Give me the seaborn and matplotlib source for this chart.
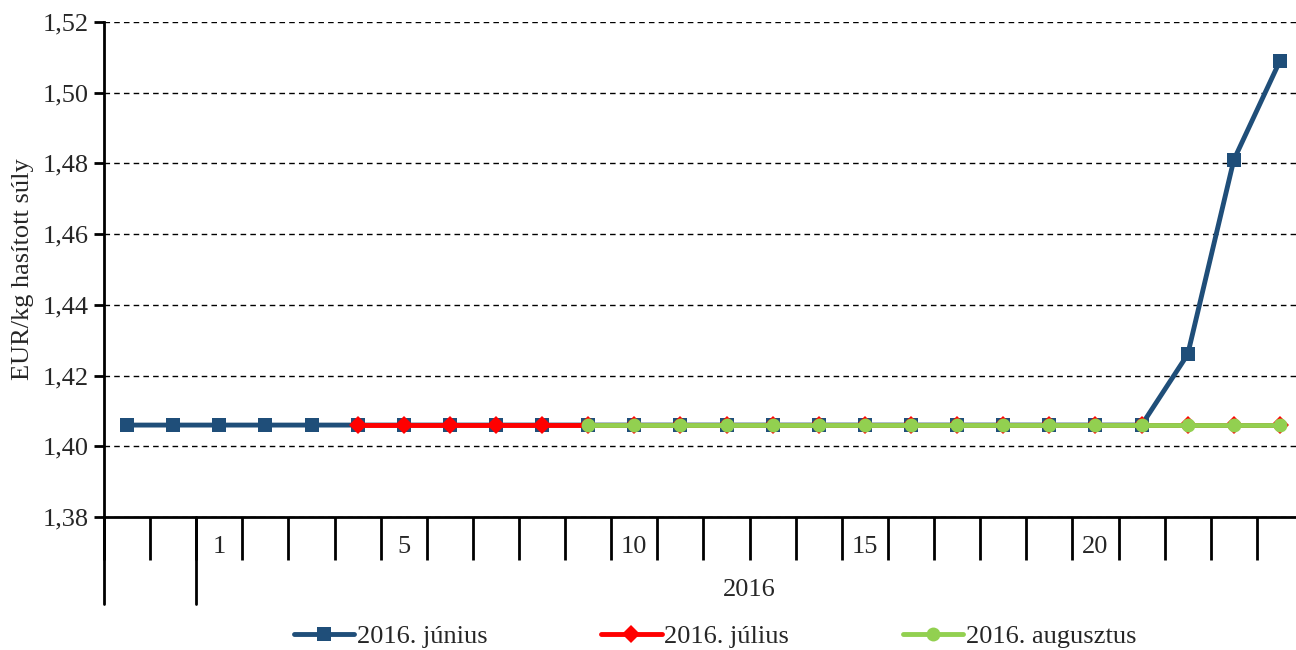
import numpy as np
import pandas as pd
import matplotlib
matplotlib.use("Agg")
import matplotlib.pyplot as plt
import matplotlib.transforms as mtransforms
from matplotlib.ticker import FuncFormatter, MultipleLocator
import seaborn as sns

sns.set_theme(style="white")
plt.rcParams["font.family"] = ["Liberation Serif", "DejaVu Serif"]

# weeks: two from the end of 2015, then 2016 weeks 1..24
weeks = ["52", "53"] + [str(w) for w in range(1, 25)]
groups = ["2015"] * 2 + ["2016"] * 24
shown_weeks = ["1", "5", "10", "15", "20"]

nan = np.nan
junius = [1.406] * 23 + [1.426, 1.481, 1.509]
julius = [nan] * 5 + [1.406] * 21
augusztus = [nan] * 10 + [1.406] * 16

series_names = ["2016. június", "2016. július", "2016. augusztus"]
series_values = [junius, julius, augusztus]
series_colors = ["#1F4E79", "#FF0000", "#92D050"]
series_markers = ["s", "D", "o"]
series_msize = [10, 9, 10]

rows = []
for name, vals in zip(series_names, series_values):
    for i, v in enumerate(vals):
        rows.append({"idx": i, "week": weeks[i], "series": name, "value": v})
df = pd.DataFrame(rows).dropna()

FS = 19

fig = plt.figure(figsize=(12.96, 6.5), dpi=100)
ax = fig.add_axes([104 / 1296, 1 - 517 / 650, (1303 - 104) / 1296, (517 - 22) / 650])

for name, col, mk, ms in zip(series_names, series_colors, series_markers, series_msize):
    sub = df[df["series"] == name]
    sns.lineplot(data=sub, x="idx", y="value", ax=ax, color=col, lw=3.5,
                 marker=mk, markersize=ms, markeredgewidth=0, label=name,
                 zorder=3)

ax.set_xlim(-0.5, len(weeks) - 0.5)
ax.set_ylim(1.38, 1.52)
ax.yaxis.set_major_locator(MultipleLocator(0.02))
ax.yaxis.set_major_formatter(FuncFormatter(lambda v, p: f"{v:.2f}".replace(".", ",")))
ax.grid(axis="y", color="black", linestyle=(0, (4, 3)), linewidth=1)
ax.set_axisbelow(True)

for s in ["top", "right"]:
    ax.spines[s].set_visible(False)
for s in ["left", "bottom"]:
    ax.spines[s].set_color("black")
    ax.spines[s].set_linewidth(2)

ax.tick_params(axis="y", direction="out", length=7, width=2, color="black",
               labelsize=FS, pad=4, left=True)

# week labels (only some shown), placed under their category
ax.set_xticks([weeks.index(w) for w in shown_weeks])
ax.set_xticklabels(shown_weeks)
ax.tick_params(axis="x", length=0, labelsize=FS, pad=14, bottom=True)

# category separator ticks
ax.set_xticks(np.arange(len(weeks) + 1) - 0.5, minor=True)
ax.tick_params(axis="x", which="minor", direction="out", length=31, width=2,
               color="black", bottom=True)

# group separators and group label
trans = mtransforms.blended_transform_factory(ax.transData, ax.transAxes)
bounds = [0]
for i in range(1, len(groups)):
    if groups[i] != groups[i - 1]:
        bounds.append(i)
for b in bounds:
    ax.plot([b - 0.5, b - 0.5], [0, -0.176], transform=trans, color="black",
            lw=2, clip_on=False)
g_idx = [i for i, g in enumerate(groups) if g == "2016"]
ax.text(np.mean(g_idx), -0.147, "2016", transform=trans, ha="center", va="center",
        fontsize=FS)

ax.set_xlabel("")
ax.set_ylabel("EUR/kg hasított súly", fontsize=FS, labelpad=6)

ax.legend(loc="center", bbox_to_anchor=(715 / 1296, 1 - 636 / 650),
          bbox_transform=fig.transFigure, ncol=3, frameon=False, fontsize=FS,
          handlelength=2.3, handletextpad=0.1, columnspacing=4.3,
          borderpad=0, markerscale=1.0)

fig.savefig("out.png", dpi=100)
